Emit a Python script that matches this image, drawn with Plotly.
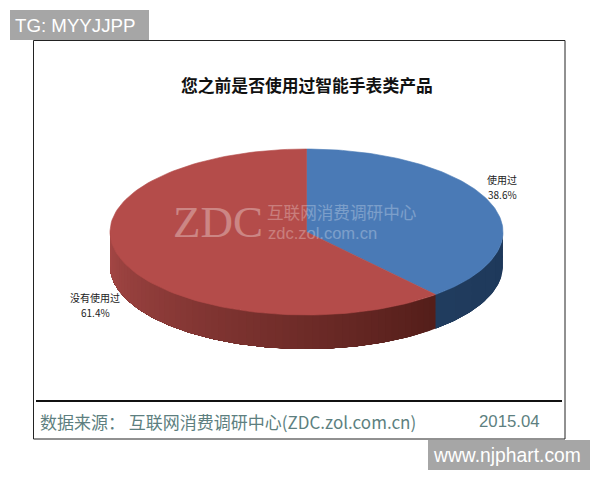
import numpy as np
import plotly.graph_objects as go

CATEGORIES = ["使用过", "没有使用过"]
VALUES = [38.6, 61.4]
TITLE = "您之前是否使用过智能手表类产品"
SOURCE = "数据来源： 互联网消费调研中心(ZDC.zol.com.cn)"
DATE = "2015.04"

CJK = "Noto Sans CJK SC"
CX, CY, RX, RY, DEPTH = 306.5, 232, 196.5, 83, 34
TOP_COLORS = ["#4a7ab6", "#b44c4a"]


def rim(a0, a1, n=120, dy=0):
    t = np.radians(np.linspace(a0, a1, n))
    return CX + RX * np.sin(t), CY + dy - RY * np.cos(t)


def mix(c0, c1, f):
    return "rgb(%d,%d,%d)" % tuple(round(a + (b - a) * f) for a, b in zip(c0, c1))


fig = go.Figure()


def poly(x, y, color, width=0.6):
    fig.add_trace(go.Scatter(x=x, y=y, mode="lines", fill="toself", fillcolor=color,
                             line=dict(color=color, width=width), hoverinfo="skip", showlegend=False))


split = VALUES[0] / sum(VALUES) * 360


def wall(a0, a1, c0, c1, steps):
    # each band runs to the wall's far end and is painted over by the next, so no seams show
    edges = np.linspace(a0, a1, steps + 1)
    for i in range(steps):
        n = max(int(a1 - edges[i]) + 2, 4)
        xa, ya = rim(edges[i], a1, n)
        xb, yb = rim(a1, edges[i], n, DEPTH)
        poly(np.r_[xa, xb, xa[0]], np.r_[ya, yb, ya[0]], mix(c0, c1, i / max(steps - 1, 1)), 0)


wall(90, split, (30, 56, 90), (32, 60, 94), 6)
wall(split, 270, (84, 30, 26), (166, 72, 70), 60)

x, y = rim(0, split)
poly(np.r_[CX, x, CX], np.r_[CY, y, CY], TOP_COLORS[0])
x, y = rim(split, 360)
poly(np.r_[CX, x, CX], np.r_[CY, y, CY], TOP_COLORS[1])


def note(px, py, text, size, color="#222", font=CJK, anchor="center", opacity=None):
    fig.add_annotation(x=px, y=py, text=text, showarrow=False, xanchor=anchor, yanchor="middle",
                       font=dict(size=size, color=color, family=font),
                       opacity=opacity if opacity is not None else 1)


# watermark
note(218, 222, "ZDC", 45, "#ffffff", "Liberation Serif", opacity=0.32)
note(265, 212, "互联网消费调研中心", 16.6, "#ffffff", anchor="left", opacity=0.28)
note(266, 233, "zdc.zol.com.cn", 16.5, "#ffffff", "Liberation Sans", anchor="left", opacity=0.28)

note(307, 85, "<b>%s</b>" % TITLE, 16.8, "#111111")
note(502, 179, CATEGORIES[0], 10)
note(502, 194, f"{VALUES[0]}%", 10)
note(95, 297, CATEGORIES[1], 10)
note(95, 312, f"{VALUES[1]}%", 10)

note(38, 421, SOURCE, 17, "#5d7f80", anchor="left")
note(477, 421, DATE, 16.8, "#5d7f80", "Liberation Sans", anchor="left")
note(13, 25, "TG: MYYJJPP", 18.7, "#ffffff", "Liberation Sans", anchor="left")
note(431, 455, "www.njphart.com", 19.3, "#ffffff", "Liberation Sans", anchor="left")

shapes = [
    dict(type="rect", x0=33.5, x1=565, y0=40.5, y1=439, line=dict(color="#222", width=1), layer="below"),
    dict(type="line", x0=36, x1=562, y0=401, y1=401, line=dict(color="#111", width=2)),
    dict(type="rect", x0=10, x1=149, y0=10, y1=40, fillcolor="#a6a6a6", line=dict(width=0), layer="below"),
    dict(type="rect", x0=428, x1=590, y0=440, y1=470, fillcolor="#a6a6a6", line=dict(width=0), layer="below"),
]

fig.update_layout(
    width=600, height=480, margin=dict(l=0, r=0, t=0, b=0),
    paper_bgcolor="#ffffff", plot_bgcolor="#ffffff", showlegend=False, shapes=shapes,
    xaxis=dict(range=[0, 600], visible=False, fixedrange=True),
    yaxis=dict(range=[480, 0], visible=False, fixedrange=True),
)
fig.write_html("out.html", config={"displayModeBar": False},
               post_script="document.body.style.margin='0';document.documentElement.style.overflow='hidden';")
